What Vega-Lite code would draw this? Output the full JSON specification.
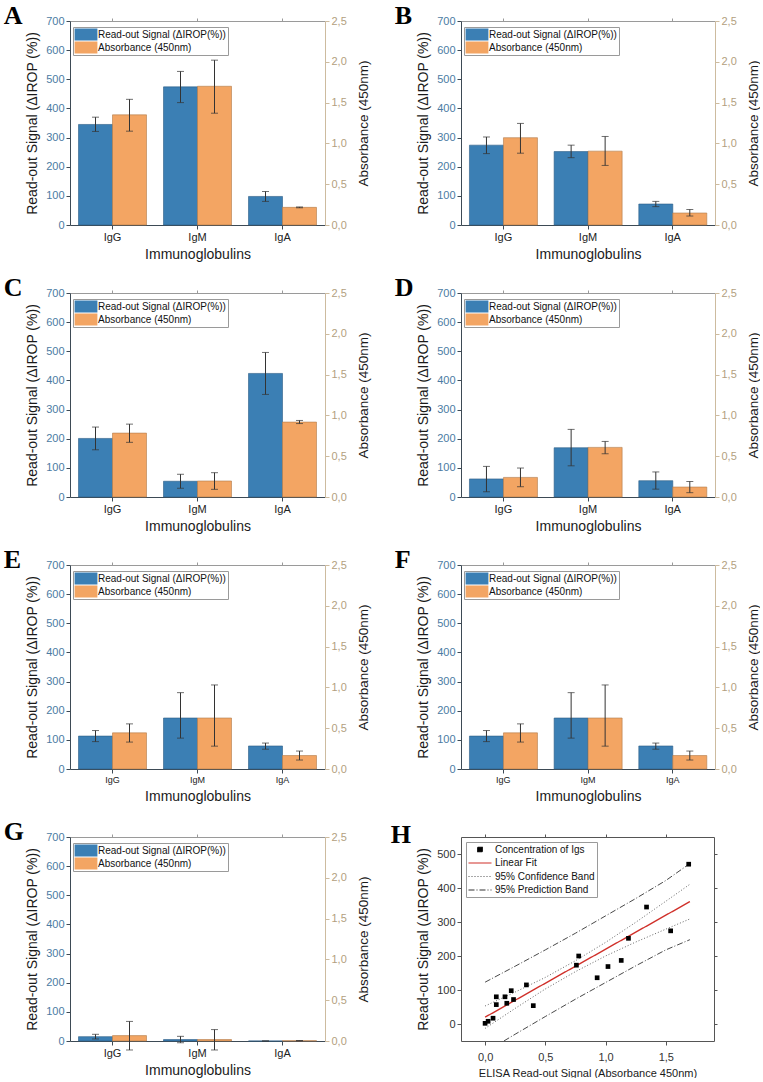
{
"$schema": "https://vega.github.io/schema/vega-lite/v6.json",
"padding": {"left": 3, "top": 3, "right": 0, "bottom": 0},
"background": "white",
"datasets": {
"bars": [
{"panel":"A","ig":"IgG","series":"Read-out Signal (ΔIROP(%))","value":345,"low":321,"high":370},
{"panel":"A","ig":"IgG","series":"Absorbance (450nm)","value":1.35,"low":1.15,"high":1.54},
{"panel":"A","ig":"IgM","series":"Read-out Signal (ΔIROP(%))","value":474,"low":420,"high":527},
{"panel":"A","ig":"IgM","series":"Absorbance (450nm)","value":1.70,"low":1.37,"high":2.02},
{"panel":"A","ig":"IgA","series":"Read-out Signal (ΔIROP(%))","value":98,"low":81,"high":115},
{"panel":"A","ig":"IgA","series":"Absorbance (450nm)","value":0.216,"low":0.211,"high":0.221},
{"panel":"B","ig":"IgG","series":"Read-out Signal (ΔIROP(%))","value":274,"low":245,"high":302},
{"panel":"B","ig":"IgG","series":"Absorbance (450nm)","value":1.07,"low":0.88,"high":1.245},
{"panel":"B","ig":"IgM","series":"Read-out Signal (ΔIROP(%))","value":252,"low":231,"high":274},
{"panel":"B","ig":"IgM","series":"Absorbance (450nm)","value":0.905,"low":0.73,"high":1.085},
{"panel":"B","ig":"IgA","series":"Read-out Signal (ΔIROP(%))","value":72,"low":63,"high":81},
{"panel":"B","ig":"IgA","series":"Absorbance (450nm)","value":0.147,"low":0.11,"high":0.19},
{"panel":"C","ig":"IgG","series":"Read-out Signal (ΔIROP(%))","value":201,"low":162,"high":240},
{"panel":"C","ig":"IgG","series":"Absorbance (450nm)","value":0.783,"low":0.67,"high":0.893},
{"panel":"C","ig":"IgM","series":"Read-out Signal (ΔIROP(%))","value":54,"low":30,"high":78},
{"panel":"C","ig":"IgM","series":"Absorbance (450nm)","value":0.196,"low":0.094,"high":0.298},
{"panel":"C","ig":"IgA","series":"Read-out Signal (ΔIROP(%))","value":424,"low":352,"high":496},
{"panel":"C","ig":"IgA","series":"Absorbance (450nm)","value":0.918,"low":0.9,"high":0.938},
{"panel":"D","ig":"IgG","series":"Read-out Signal (ΔIROP(%))","value":62,"low":18,"high":105},
{"panel":"D","ig":"IgG","series":"Absorbance (450nm)","value":0.24,"low":0.126,"high":0.355},
{"panel":"D","ig":"IgM","series":"Read-out Signal (ΔIROP(%))","value":169,"low":107,"high":232},
{"panel":"D","ig":"IgM","series":"Absorbance (450nm)","value":0.608,"low":0.53,"high":0.681},
{"panel":"D","ig":"IgA","series":"Read-out Signal (ΔIROP(%))","value":56,"low":27,"high":86},
{"panel":"D","ig":"IgA","series":"Absorbance (450nm)","value":0.122,"low":0.053,"high":0.19},
{"panel":"E","ig":"IgG","series":"Read-out Signal (ΔIROP(%))","value":113,"low":94,"high":132},
{"panel":"E","ig":"IgG","series":"Absorbance (450nm)","value":0.443,"low":0.33,"high":0.553},
{"panel":"E","ig":"IgM","series":"Read-out Signal (ΔIROP(%))","value":175,"low":106,"high":262},
{"panel":"E","ig":"IgM","series":"Absorbance (450nm)","value":0.625,"low":0.28,"high":1.03},
{"panel":"E","ig":"IgA","series":"Read-out Signal (ΔIROP(%))","value":79,"low":68,"high":89},
{"panel":"E","ig":"IgA","series":"Absorbance (450nm)","value":0.165,"low":0.11,"high":0.22},
{"panel":"F","ig":"IgG","series":"Read-out Signal (ΔIROP(%))","value":113,"low":94,"high":132},
{"panel":"F","ig":"IgG","series":"Absorbance (450nm)","value":0.443,"low":0.33,"high":0.553},
{"panel":"F","ig":"IgM","series":"Read-out Signal (ΔIROP(%))","value":175,"low":106,"high":262},
{"panel":"F","ig":"IgM","series":"Absorbance (450nm)","value":0.625,"low":0.28,"high":1.03},
{"panel":"F","ig":"IgA","series":"Read-out Signal (ΔIROP(%))","value":79,"low":68,"high":89},
{"panel":"F","ig":"IgA","series":"Absorbance (450nm)","value":0.165,"low":0.11,"high":0.22},
{"panel":"G","ig":"IgG","series":"Read-out Signal (ΔIROP(%))","value":15,"low":7,"high":23},
{"panel":"G","ig":"IgG","series":"Absorbance (450nm)","value":0.066,"low":-0.11,"high":0.24},
{"panel":"G","ig":"IgM","series":"Read-out Signal (ΔIROP(%))","value":5,"low":-6,"high":16},
{"panel":"G","ig":"IgM","series":"Absorbance (450nm)","value":0.018,"low":-0.11,"high":0.14},
{"panel":"G","ig":"IgA","series":"Read-out Signal (ΔIROP(%))","value":0,"low":0,"high":0},
{"panel":"G","ig":"IgA","series":"Absorbance (450nm)","value":0.004,"low":0.002,"high":0.006}
],
"pts": [
{"x":0.0,"y":2,"cat":"Concentration of Igs"},
{"x":0.025,"y":8,"cat":"Concentration of Igs"},
{"x":0.066,"y":17,"cat":"Concentration of Igs"},
{"x":0.093,"y":57,"cat":"Concentration of Igs"},
{"x":0.093,"y":80,"cat":"Concentration of Igs"},
{"x":0.165,"y":80,"cat":"Concentration of Igs"},
{"x":0.18,"y":61,"cat":"Concentration of Igs"},
{"x":0.217,"y":98,"cat":"Concentration of Igs"},
{"x":0.236,"y":72,"cat":"Concentration of Igs"},
{"x":0.343,"y":115,"cat":"Concentration of Igs"},
{"x":0.40,"y":54,"cat":"Concentration of Igs"},
{"x":0.758,"y":173,"cat":"Concentration of Igs"},
{"x":0.777,"y":200,"cat":"Concentration of Igs"},
{"x":0.93,"y":136,"cat":"Concentration of Igs"},
{"x":1.02,"y":169,"cat":"Concentration of Igs"},
{"x":1.13,"y":187,"cat":"Concentration of Igs"},
{"x":1.19,"y":252,"cat":"Concentration of Igs"},
{"x":1.34,"y":344,"cat":"Concentration of Igs"},
{"x":1.54,"y":274,"cat":"Concentration of Igs"},
{"x":1.69,"y":470,"cat":"Concentration of Igs"}
],
"lines": [
{"line":"fit","cat":"Linear Fit","x":0,"y":20},
{"line":"fit","cat":"Linear Fit","x":1.7,"y":360},
{"line":"cbU","cat":"95% Confidence Band","x":0,"y":53},
{"line":"cbU","cat":"95% Confidence Band","x":0.25,"y":94},
{"line":"cbU","cat":"95% Confidence Band","x":0.5,"y":137},
{"line":"cbU","cat":"95% Confidence Band","x":0.75,"y":186},
{"line":"cbU","cat":"95% Confidence Band","x":1.0,"y":240},
{"line":"cbU","cat":"95% Confidence Band","x":1.25,"y":299},
{"line":"cbU","cat":"95% Confidence Band","x":1.5,"y":361},
{"line":"cbU","cat":"95% Confidence Band","x":1.7,"y":411},
{"line":"cbL","cat":"95% Confidence Band","x":0,"y":-13},
{"line":"cbL","cat":"95% Confidence Band","x":0.25,"y":46},
{"line":"cbL","cat":"95% Confidence Band","x":0.5,"y":103},
{"line":"cbL","cat":"95% Confidence Band","x":0.75,"y":154},
{"line":"cbL","cat":"95% Confidence Band","x":1.0,"y":200},
{"line":"cbL","cat":"95% Confidence Band","x":1.25,"y":241},
{"line":"cbL","cat":"95% Confidence Band","x":1.5,"y":279},
{"line":"cbL","cat":"95% Confidence Band","x":1.7,"y":309},
{"line":"pbU","cat":"95% Prediction Band","x":0,"y":123},
{"line":"pbU","cat":"95% Prediction Band","x":0.25,"y":170},
{"line":"pbU","cat":"95% Prediction Band","x":0.5,"y":218},
{"line":"pbU","cat":"95% Prediction Band","x":0.75,"y":267},
{"line":"pbU","cat":"95% Prediction Band","x":1.0,"y":318},
{"line":"pbU","cat":"95% Prediction Band","x":1.25,"y":369},
{"line":"pbU","cat":"95% Prediction Band","x":1.5,"y":422},
{"line":"pbU","cat":"95% Prediction Band","x":1.7,"y":472},
{"line":"pbL","cat":"95% Prediction Band","x":0,"y":-83},
{"line":"pbL","cat":"95% Prediction Band","x":0.25,"y":-30},
{"line":"pbL","cat":"95% Prediction Band","x":0.5,"y":22},
{"line":"pbL","cat":"95% Prediction Band","x":0.75,"y":73},
{"line":"pbL","cat":"95% Prediction Band","x":1.0,"y":122},
{"line":"pbL","cat":"95% Prediction Band","x":1.25,"y":171},
{"line":"pbL","cat":"95% Prediction Band","x":1.5,"y":218},
{"line":"pbL","cat":"95% Prediction Band","x":1.7,"y":248}
]
},
"bounds": "flush",
"columns": 2,
"spacing": {"row": 68, "column": 136},
"resolve": {"scale": {"color": "independent", "strokeDash": "independent"}, "legend": {"color": "independent"}},
"concat": [
{"title": {"text": "A"}, "width": 255, "height": 204, "data": {"name": "bars"}, "transform": [{"filter": "datum.panel == 'A'"}],
 "resolve": {"scale": {"y": "independent"}, "axis": {"x": "independent"}},
 "layer": [
  {"transform": [{"filter": "datum.series == 'Read-out Signal (ΔIROP(%))'"}],
   "encoding": {"x": {"field": "ig", "type": "nominal", "sort": ["IgG","IgM","IgA"], "scale": {"paddingInner": 0.2, "paddingOuter": 0.1}, "axis": {"title": "Immunoglobulins", "labelAngle": 0, "domainColor": "#3d4a55", "tickColor": "#3d4a55", "labelColor": "#222", "titlePadding": 5}},
     "xOffset": {"field": "series", "type": "nominal", "scale": {"domain": ["Read-out Signal (ΔIROP(%))", "Absorbance (450nm)"]}}},
   "layer": [
    {"mark": {"type": "bar", "stroke": "#2c5d85", "strokeWidth": 0.6},
     "encoding": {"y": {"field": "value", "type": "quantitative", "scale": {"domain": [0,700], "nice": false}, "axis": {"title": "Read-out Signal (ΔIROP (%))", "values": [0,100,200,300,400,500,600,700], "labelColor": "#4b7ba3", "domainColor": "#3d4a55", "tickColor": "#3d4a55", "titlePadding": 6}},
      "color": {"field": "series", "type": "nominal", "scale": {"domain": ["Read-out Signal (ΔIROP(%))", "Absorbance (450nm)"], "range": ["#3b7fb4", "#f3a563"]}, "legend": {"title": null, "orient": "none", "legendX": 3, "legendY": 6}}}},
    {"mark": {"type": "rule", "color": "#333", "strokeWidth": 1}, "encoding": {"y": {"field": "low", "type": "quantitative", "axis": {"title": "Read-out Signal (ΔIROP (%))", "values": [0,100,200,300,400,500,600,700], "labelColor": "#4b7ba3", "domainColor": "#3d4a55", "tickColor": "#3d4a55", "titlePadding": 6}}, "y2": {"field": "high"}}},
    {"mark": {"type": "tick", "color": "#333", "thickness": 1, "size": 7}, "encoding": {"y": {"field": "low", "type": "quantitative", "axis": {"title": "Read-out Signal (ΔIROP (%))", "values": [0,100,200,300,400,500,600,700], "labelColor": "#4b7ba3", "domainColor": "#3d4a55", "tickColor": "#3d4a55", "titlePadding": 6}}}},
    {"mark": {"type": "tick", "color": "#333", "thickness": 1, "size": 7}, "encoding": {"y": {"field": "high", "type": "quantitative", "axis": {"title": "Read-out Signal (ΔIROP (%))", "values": [0,100,200,300,400,500,600,700], "labelColor": "#4b7ba3", "domainColor": "#3d4a55", "tickColor": "#3d4a55", "titlePadding": 6}}}}
   ]},
  {"transform": [{"filter": "datum.series == 'Absorbance (450nm)'"}],
   "encoding": {"x": {"field": "ig", "type": "nominal", "sort": ["IgG","IgM","IgA"], "scale": {"paddingInner": 0.2, "paddingOuter": 0.1}, "axis": {"orient": "top", "title": null, "labels": false, "domainColor": "#9a9a9a", "tickColor": "#9a9a9a", "tickSize": 3}},
     "xOffset": {"field": "series", "type": "nominal", "scale": {"domain": ["Read-out Signal (ΔIROP(%))", "Absorbance (450nm)"]}}},
   "layer": [
    {"mark": {"type": "bar", "stroke": "#b07a4a", "strokeWidth": 0.6},
     "encoding": {"y": {"field": "value", "type": "quantitative", "scale": {"domain": [0,2.5], "nice": false}, "axis": {"orient": "right", "title": "Absorbance (450nm)", "values": [0,0.5,1,1.5,2,2.5], "format": ".1f", "labelExpr": "replace(datum.label, '.', ',')", "labelColor": "#b39f80", "domainColor": "#cdbb9f", "tickColor": "#cdbb9f", "titlePadding": 10, "titleFontSize": 13.5}},
      "color": {"field": "series", "type": "nominal", "scale": {"domain": ["Read-out Signal (ΔIROP(%))", "Absorbance (450nm)"], "range": ["#3b7fb4", "#f3a563"]}, "legend": {"title": null, "orient": "none", "legendX": 3, "legendY": 6}}}},
    {"mark": {"type": "rule", "color": "#333", "strokeWidth": 1}, "encoding": {"y": {"field": "low", "type": "quantitative", "axis": {"orient": "right", "title": "Absorbance (450nm)", "values": [0,0.5,1,1.5,2,2.5], "format": ".1f", "labelExpr": "replace(datum.label, '.', ',')", "labelColor": "#b39f80", "domainColor": "#cdbb9f", "tickColor": "#cdbb9f", "titlePadding": 10, "titleFontSize": 13.5}}, "y2": {"field": "high"}}},
    {"mark": {"type": "tick", "color": "#333", "thickness": 1, "size": 7}, "encoding": {"y": {"field": "low", "type": "quantitative", "axis": {"orient": "right", "title": "Absorbance (450nm)", "values": [0,0.5,1,1.5,2,2.5], "format": ".1f", "labelExpr": "replace(datum.label, '.', ',')", "labelColor": "#b39f80", "domainColor": "#cdbb9f", "tickColor": "#cdbb9f", "titlePadding": 10, "titleFontSize": 13.5}}}},
    {"mark": {"type": "tick", "color": "#333", "thickness": 1, "size": 7}, "encoding": {"y": {"field": "high", "type": "quantitative", "axis": {"orient": "right", "title": "Absorbance (450nm)", "values": [0,0.5,1,1.5,2,2.5], "format": ".1f", "labelExpr": "replace(datum.label, '.', ',')", "labelColor": "#b39f80", "domainColor": "#cdbb9f", "tickColor": "#cdbb9f", "titlePadding": 10, "titleFontSize": 13.5}}}}
   ]}
 ]},
{"title": {"text": "B"}, "width": 254, "height": 204, "data": {"name": "bars"}, "transform": [{"filter": "datum.panel == 'B'"}],
 "resolve": {"scale": {"y": "independent"}, "axis": {"x": "independent"}},
 "layer": [
  {"transform": [{"filter": "datum.series == 'Read-out Signal (ΔIROP(%))'"}],
   "encoding": {"x": {"field": "ig", "type": "nominal", "sort": ["IgG","IgM","IgA"], "scale": {"paddingInner": 0.2, "paddingOuter": 0.1}, "axis": {"title": "Immunoglobulins", "labelAngle": 0, "domainColor": "#3d4a55", "tickColor": "#3d4a55", "labelColor": "#222", "titlePadding": 5}},
     "xOffset": {"field": "series", "type": "nominal", "scale": {"domain": ["Read-out Signal (ΔIROP(%))", "Absorbance (450nm)"]}}},
   "layer": [
    {"mark": {"type": "bar", "stroke": "#2c5d85", "strokeWidth": 0.6},
     "encoding": {"y": {"field": "value", "type": "quantitative", "scale": {"domain": [0,700], "nice": false}, "axis": {"title": "Read-out Signal (ΔIROP (%))", "values": [0,100,200,300,400,500,600,700], "labelColor": "#4b7ba3", "domainColor": "#3d4a55", "tickColor": "#3d4a55", "titlePadding": 6}},
      "color": {"field": "series", "type": "nominal", "scale": {"domain": ["Read-out Signal (ΔIROP(%))", "Absorbance (450nm)"], "range": ["#3b7fb4", "#f3a563"]}, "legend": {"title": null, "orient": "none", "legendX": 3, "legendY": 6}}}},
    {"mark": {"type": "rule", "color": "#333", "strokeWidth": 1}, "encoding": {"y": {"field": "low", "type": "quantitative", "axis": {"title": "Read-out Signal (ΔIROP (%))", "values": [0,100,200,300,400,500,600,700], "labelColor": "#4b7ba3", "domainColor": "#3d4a55", "tickColor": "#3d4a55", "titlePadding": 6}}, "y2": {"field": "high"}}},
    {"mark": {"type": "tick", "color": "#333", "thickness": 1, "size": 7}, "encoding": {"y": {"field": "low", "type": "quantitative", "axis": {"title": "Read-out Signal (ΔIROP (%))", "values": [0,100,200,300,400,500,600,700], "labelColor": "#4b7ba3", "domainColor": "#3d4a55", "tickColor": "#3d4a55", "titlePadding": 6}}}},
    {"mark": {"type": "tick", "color": "#333", "thickness": 1, "size": 7}, "encoding": {"y": {"field": "high", "type": "quantitative", "axis": {"title": "Read-out Signal (ΔIROP (%))", "values": [0,100,200,300,400,500,600,700], "labelColor": "#4b7ba3", "domainColor": "#3d4a55", "tickColor": "#3d4a55", "titlePadding": 6}}}}
   ]},
  {"transform": [{"filter": "datum.series == 'Absorbance (450nm)'"}],
   "encoding": {"x": {"field": "ig", "type": "nominal", "sort": ["IgG","IgM","IgA"], "scale": {"paddingInner": 0.2, "paddingOuter": 0.1}, "axis": {"orient": "top", "title": null, "labels": false, "domainColor": "#9a9a9a", "tickColor": "#9a9a9a", "tickSize": 3}},
     "xOffset": {"field": "series", "type": "nominal", "scale": {"domain": ["Read-out Signal (ΔIROP(%))", "Absorbance (450nm)"]}}},
   "layer": [
    {"mark": {"type": "bar", "stroke": "#b07a4a", "strokeWidth": 0.6},
     "encoding": {"y": {"field": "value", "type": "quantitative", "scale": {"domain": [0,2.5], "nice": false}, "axis": {"orient": "right", "title": "Absorbance (450nm)", "values": [0,0.5,1,1.5,2,2.5], "format": ".1f", "labelExpr": "replace(datum.label, '.', ',')", "labelColor": "#b39f80", "domainColor": "#cdbb9f", "tickColor": "#cdbb9f", "titlePadding": 10, "titleFontSize": 13.5}},
      "color": {"field": "series", "type": "nominal", "scale": {"domain": ["Read-out Signal (ΔIROP(%))", "Absorbance (450nm)"], "range": ["#3b7fb4", "#f3a563"]}, "legend": {"title": null, "orient": "none", "legendX": 3, "legendY": 6}}}},
    {"mark": {"type": "rule", "color": "#333", "strokeWidth": 1}, "encoding": {"y": {"field": "low", "type": "quantitative", "axis": {"orient": "right", "title": "Absorbance (450nm)", "values": [0,0.5,1,1.5,2,2.5], "format": ".1f", "labelExpr": "replace(datum.label, '.', ',')", "labelColor": "#b39f80", "domainColor": "#cdbb9f", "tickColor": "#cdbb9f", "titlePadding": 10, "titleFontSize": 13.5}}, "y2": {"field": "high"}}},
    {"mark": {"type": "tick", "color": "#333", "thickness": 1, "size": 7}, "encoding": {"y": {"field": "low", "type": "quantitative", "axis": {"orient": "right", "title": "Absorbance (450nm)", "values": [0,0.5,1,1.5,2,2.5], "format": ".1f", "labelExpr": "replace(datum.label, '.', ',')", "labelColor": "#b39f80", "domainColor": "#cdbb9f", "tickColor": "#cdbb9f", "titlePadding": 10, "titleFontSize": 13.5}}}},
    {"mark": {"type": "tick", "color": "#333", "thickness": 1, "size": 7}, "encoding": {"y": {"field": "high", "type": "quantitative", "axis": {"orient": "right", "title": "Absorbance (450nm)", "values": [0,0.5,1,1.5,2,2.5], "format": ".1f", "labelExpr": "replace(datum.label, '.', ',')", "labelColor": "#b39f80", "domainColor": "#cdbb9f", "tickColor": "#cdbb9f", "titlePadding": 10, "titleFontSize": 13.5}}}}
   ]}
 ]},
{"title": {"text": "C"}, "width": 255, "height": 204, "data": {"name": "bars"}, "transform": [{"filter": "datum.panel == 'C'"}],
 "resolve": {"scale": {"y": "independent"}, "axis": {"x": "independent"}},
 "layer": [
  {"transform": [{"filter": "datum.series == 'Read-out Signal (ΔIROP(%))'"}],
   "encoding": {"x": {"field": "ig", "type": "nominal", "sort": ["IgG","IgM","IgA"], "scale": {"paddingInner": 0.2, "paddingOuter": 0.1}, "axis": {"title": "Immunoglobulins", "labelAngle": 0, "domainColor": "#3d4a55", "tickColor": "#3d4a55", "labelColor": "#222", "titlePadding": 5}},
     "xOffset": {"field": "series", "type": "nominal", "scale": {"domain": ["Read-out Signal (ΔIROP(%))", "Absorbance (450nm)"]}}},
   "layer": [
    {"mark": {"type": "bar", "stroke": "#2c5d85", "strokeWidth": 0.6},
     "encoding": {"y": {"field": "value", "type": "quantitative", "scale": {"domain": [0,700], "nice": false}, "axis": {"title": "Read-out Signal (ΔIROP (%))", "values": [0,100,200,300,400,500,600,700], "labelColor": "#4b7ba3", "domainColor": "#3d4a55", "tickColor": "#3d4a55", "titlePadding": 6}},
      "color": {"field": "series", "type": "nominal", "scale": {"domain": ["Read-out Signal (ΔIROP(%))", "Absorbance (450nm)"], "range": ["#3b7fb4", "#f3a563"]}, "legend": {"title": null, "orient": "none", "legendX": 3, "legendY": 6}}}},
    {"mark": {"type": "rule", "color": "#333", "strokeWidth": 1}, "encoding": {"y": {"field": "low", "type": "quantitative", "axis": {"title": "Read-out Signal (ΔIROP (%))", "values": [0,100,200,300,400,500,600,700], "labelColor": "#4b7ba3", "domainColor": "#3d4a55", "tickColor": "#3d4a55", "titlePadding": 6}}, "y2": {"field": "high"}}},
    {"mark": {"type": "tick", "color": "#333", "thickness": 1, "size": 7}, "encoding": {"y": {"field": "low", "type": "quantitative", "axis": {"title": "Read-out Signal (ΔIROP (%))", "values": [0,100,200,300,400,500,600,700], "labelColor": "#4b7ba3", "domainColor": "#3d4a55", "tickColor": "#3d4a55", "titlePadding": 6}}}},
    {"mark": {"type": "tick", "color": "#333", "thickness": 1, "size": 7}, "encoding": {"y": {"field": "high", "type": "quantitative", "axis": {"title": "Read-out Signal (ΔIROP (%))", "values": [0,100,200,300,400,500,600,700], "labelColor": "#4b7ba3", "domainColor": "#3d4a55", "tickColor": "#3d4a55", "titlePadding": 6}}}}
   ]},
  {"transform": [{"filter": "datum.series == 'Absorbance (450nm)'"}],
   "encoding": {"x": {"field": "ig", "type": "nominal", "sort": ["IgG","IgM","IgA"], "scale": {"paddingInner": 0.2, "paddingOuter": 0.1}, "axis": {"orient": "top", "title": null, "labels": false, "domainColor": "#9a9a9a", "tickColor": "#9a9a9a", "tickSize": 3}},
     "xOffset": {"field": "series", "type": "nominal", "scale": {"domain": ["Read-out Signal (ΔIROP(%))", "Absorbance (450nm)"]}}},
   "layer": [
    {"mark": {"type": "bar", "stroke": "#b07a4a", "strokeWidth": 0.6},
     "encoding": {"y": {"field": "value", "type": "quantitative", "scale": {"domain": [0,2.5], "nice": false}, "axis": {"orient": "right", "title": "Absorbance (450nm)", "values": [0,0.5,1,1.5,2,2.5], "format": ".1f", "labelExpr": "replace(datum.label, '.', ',')", "labelColor": "#b39f80", "domainColor": "#cdbb9f", "tickColor": "#cdbb9f", "titlePadding": 10, "titleFontSize": 13.5}},
      "color": {"field": "series", "type": "nominal", "scale": {"domain": ["Read-out Signal (ΔIROP(%))", "Absorbance (450nm)"], "range": ["#3b7fb4", "#f3a563"]}, "legend": {"title": null, "orient": "none", "legendX": 3, "legendY": 6}}}},
    {"mark": {"type": "rule", "color": "#333", "strokeWidth": 1}, "encoding": {"y": {"field": "low", "type": "quantitative", "axis": {"orient": "right", "title": "Absorbance (450nm)", "values": [0,0.5,1,1.5,2,2.5], "format": ".1f", "labelExpr": "replace(datum.label, '.', ',')", "labelColor": "#b39f80", "domainColor": "#cdbb9f", "tickColor": "#cdbb9f", "titlePadding": 10, "titleFontSize": 13.5}}, "y2": {"field": "high"}}},
    {"mark": {"type": "tick", "color": "#333", "thickness": 1, "size": 7}, "encoding": {"y": {"field": "low", "type": "quantitative", "axis": {"orient": "right", "title": "Absorbance (450nm)", "values": [0,0.5,1,1.5,2,2.5], "format": ".1f", "labelExpr": "replace(datum.label, '.', ',')", "labelColor": "#b39f80", "domainColor": "#cdbb9f", "tickColor": "#cdbb9f", "titlePadding": 10, "titleFontSize": 13.5}}}},
    {"mark": {"type": "tick", "color": "#333", "thickness": 1, "size": 7}, "encoding": {"y": {"field": "high", "type": "quantitative", "axis": {"orient": "right", "title": "Absorbance (450nm)", "values": [0,0.5,1,1.5,2,2.5], "format": ".1f", "labelExpr": "replace(datum.label, '.', ',')", "labelColor": "#b39f80", "domainColor": "#cdbb9f", "tickColor": "#cdbb9f", "titlePadding": 10, "titleFontSize": 13.5}}}}
   ]}
 ]},
{"title": {"text": "D"}, "width": 254, "height": 204, "data": {"name": "bars"}, "transform": [{"filter": "datum.panel == 'D'"}],
 "resolve": {"scale": {"y": "independent"}, "axis": {"x": "independent"}},
 "layer": [
  {"transform": [{"filter": "datum.series == 'Read-out Signal (ΔIROP(%))'"}],
   "encoding": {"x": {"field": "ig", "type": "nominal", "sort": ["IgG","IgM","IgA"], "scale": {"paddingInner": 0.2, "paddingOuter": 0.1}, "axis": {"title": "Immunoglobulins", "labelAngle": 0, "domainColor": "#3d4a55", "tickColor": "#3d4a55", "labelColor": "#222", "titlePadding": 5}},
     "xOffset": {"field": "series", "type": "nominal", "scale": {"domain": ["Read-out Signal (ΔIROP(%))", "Absorbance (450nm)"]}}},
   "layer": [
    {"mark": {"type": "bar", "stroke": "#2c5d85", "strokeWidth": 0.6},
     "encoding": {"y": {"field": "value", "type": "quantitative", "scale": {"domain": [0,700], "nice": false}, "axis": {"title": "Read-out Signal (ΔIROP (%))", "values": [0,100,200,300,400,500,600,700], "labelColor": "#4b7ba3", "domainColor": "#3d4a55", "tickColor": "#3d4a55", "titlePadding": 6}},
      "color": {"field": "series", "type": "nominal", "scale": {"domain": ["Read-out Signal (ΔIROP(%))", "Absorbance (450nm)"], "range": ["#3b7fb4", "#f3a563"]}, "legend": {"title": null, "orient": "none", "legendX": 3, "legendY": 6}}}},
    {"mark": {"type": "rule", "color": "#333", "strokeWidth": 1}, "encoding": {"y": {"field": "low", "type": "quantitative", "axis": {"title": "Read-out Signal (ΔIROP (%))", "values": [0,100,200,300,400,500,600,700], "labelColor": "#4b7ba3", "domainColor": "#3d4a55", "tickColor": "#3d4a55", "titlePadding": 6}}, "y2": {"field": "high"}}},
    {"mark": {"type": "tick", "color": "#333", "thickness": 1, "size": 7}, "encoding": {"y": {"field": "low", "type": "quantitative", "axis": {"title": "Read-out Signal (ΔIROP (%))", "values": [0,100,200,300,400,500,600,700], "labelColor": "#4b7ba3", "domainColor": "#3d4a55", "tickColor": "#3d4a55", "titlePadding": 6}}}},
    {"mark": {"type": "tick", "color": "#333", "thickness": 1, "size": 7}, "encoding": {"y": {"field": "high", "type": "quantitative", "axis": {"title": "Read-out Signal (ΔIROP (%))", "values": [0,100,200,300,400,500,600,700], "labelColor": "#4b7ba3", "domainColor": "#3d4a55", "tickColor": "#3d4a55", "titlePadding": 6}}}}
   ]},
  {"transform": [{"filter": "datum.series == 'Absorbance (450nm)'"}],
   "encoding": {"x": {"field": "ig", "type": "nominal", "sort": ["IgG","IgM","IgA"], "scale": {"paddingInner": 0.2, "paddingOuter": 0.1}, "axis": {"orient": "top", "title": null, "labels": false, "domainColor": "#9a9a9a", "tickColor": "#9a9a9a", "tickSize": 3}},
     "xOffset": {"field": "series", "type": "nominal", "scale": {"domain": ["Read-out Signal (ΔIROP(%))", "Absorbance (450nm)"]}}},
   "layer": [
    {"mark": {"type": "bar", "stroke": "#b07a4a", "strokeWidth": 0.6},
     "encoding": {"y": {"field": "value", "type": "quantitative", "scale": {"domain": [0,2.5], "nice": false}, "axis": {"orient": "right", "title": "Absorbance (450nm)", "values": [0,0.5,1,1.5,2,2.5], "format": ".1f", "labelExpr": "replace(datum.label, '.', ',')", "labelColor": "#b39f80", "domainColor": "#cdbb9f", "tickColor": "#cdbb9f", "titlePadding": 10, "titleFontSize": 13.5}},
      "color": {"field": "series", "type": "nominal", "scale": {"domain": ["Read-out Signal (ΔIROP(%))", "Absorbance (450nm)"], "range": ["#3b7fb4", "#f3a563"]}, "legend": {"title": null, "orient": "none", "legendX": 3, "legendY": 6}}}},
    {"mark": {"type": "rule", "color": "#333", "strokeWidth": 1}, "encoding": {"y": {"field": "low", "type": "quantitative", "axis": {"orient": "right", "title": "Absorbance (450nm)", "values": [0,0.5,1,1.5,2,2.5], "format": ".1f", "labelExpr": "replace(datum.label, '.', ',')", "labelColor": "#b39f80", "domainColor": "#cdbb9f", "tickColor": "#cdbb9f", "titlePadding": 10, "titleFontSize": 13.5}}, "y2": {"field": "high"}}},
    {"mark": {"type": "tick", "color": "#333", "thickness": 1, "size": 7}, "encoding": {"y": {"field": "low", "type": "quantitative", "axis": {"orient": "right", "title": "Absorbance (450nm)", "values": [0,0.5,1,1.5,2,2.5], "format": ".1f", "labelExpr": "replace(datum.label, '.', ',')", "labelColor": "#b39f80", "domainColor": "#cdbb9f", "tickColor": "#cdbb9f", "titlePadding": 10, "titleFontSize": 13.5}}}},
    {"mark": {"type": "tick", "color": "#333", "thickness": 1, "size": 7}, "encoding": {"y": {"field": "high", "type": "quantitative", "axis": {"orient": "right", "title": "Absorbance (450nm)", "values": [0,0.5,1,1.5,2,2.5], "format": ".1f", "labelExpr": "replace(datum.label, '.', ',')", "labelColor": "#b39f80", "domainColor": "#cdbb9f", "tickColor": "#cdbb9f", "titlePadding": 10, "titleFontSize": 13.5}}}}
   ]}
 ]},
{"title": {"text": "E"}, "width": 255, "height": 204, "data": {"name": "bars"}, "transform": [{"filter": "datum.panel == 'E'"}],
 "resolve": {"scale": {"y": "independent"}, "axis": {"x": "independent"}},
 "layer": [
  {"transform": [{"filter": "datum.series == 'Read-out Signal (ΔIROP(%))'"}],
   "encoding": {"x": {"field": "ig", "type": "nominal", "sort": ["IgG","IgM","IgA"], "scale": {"paddingInner": 0.2, "paddingOuter": 0.1}, "axis": {"title": "Immunoglobulins", "labelAngle": 0, "labelFontSize": 9, "domainColor": "#3d4a55", "tickColor": "#3d4a55", "labelColor": "#222", "titlePadding": 5}},
     "xOffset": {"field": "series", "type": "nominal", "scale": {"domain": ["Read-out Signal (ΔIROP(%))", "Absorbance (450nm)"]}}},
   "layer": [
    {"mark": {"type": "bar", "stroke": "#2c5d85", "strokeWidth": 0.6},
     "encoding": {"y": {"field": "value", "type": "quantitative", "scale": {"domain": [0,700], "nice": false}, "axis": {"title": "Read-out Signal (ΔIROP (%))", "values": [0,100,200,300,400,500,600,700], "labelColor": "#4b7ba3", "domainColor": "#3d4a55", "tickColor": "#3d4a55", "titlePadding": 6}},
      "color": {"field": "series", "type": "nominal", "scale": {"domain": ["Read-out Signal (ΔIROP(%))", "Absorbance (450nm)"], "range": ["#3b7fb4", "#f3a563"]}, "legend": {"title": null, "orient": "none", "legendX": 3, "legendY": 6}}}},
    {"mark": {"type": "rule", "color": "#333", "strokeWidth": 1}, "encoding": {"y": {"field": "low", "type": "quantitative", "axis": {"title": "Read-out Signal (ΔIROP (%))", "values": [0,100,200,300,400,500,600,700], "labelColor": "#4b7ba3", "domainColor": "#3d4a55", "tickColor": "#3d4a55", "titlePadding": 6}}, "y2": {"field": "high"}}},
    {"mark": {"type": "tick", "color": "#333", "thickness": 1, "size": 7}, "encoding": {"y": {"field": "low", "type": "quantitative", "axis": {"title": "Read-out Signal (ΔIROP (%))", "values": [0,100,200,300,400,500,600,700], "labelColor": "#4b7ba3", "domainColor": "#3d4a55", "tickColor": "#3d4a55", "titlePadding": 6}}}},
    {"mark": {"type": "tick", "color": "#333", "thickness": 1, "size": 7}, "encoding": {"y": {"field": "high", "type": "quantitative", "axis": {"title": "Read-out Signal (ΔIROP (%))", "values": [0,100,200,300,400,500,600,700], "labelColor": "#4b7ba3", "domainColor": "#3d4a55", "tickColor": "#3d4a55", "titlePadding": 6}}}}
   ]},
  {"transform": [{"filter": "datum.series == 'Absorbance (450nm)'"}],
   "encoding": {"x": {"field": "ig", "type": "nominal", "sort": ["IgG","IgM","IgA"], "scale": {"paddingInner": 0.2, "paddingOuter": 0.1}, "axis": {"orient": "top", "title": null, "labels": false, "domainColor": "#9a9a9a", "tickColor": "#9a9a9a", "tickSize": 3}},
     "xOffset": {"field": "series", "type": "nominal", "scale": {"domain": ["Read-out Signal (ΔIROP(%))", "Absorbance (450nm)"]}}},
   "layer": [
    {"mark": {"type": "bar", "stroke": "#b07a4a", "strokeWidth": 0.6},
     "encoding": {"y": {"field": "value", "type": "quantitative", "scale": {"domain": [0,2.5], "nice": false}, "axis": {"orient": "right", "title": "Absorbance (450nm)", "values": [0,0.5,1,1.5,2,2.5], "format": ".1f", "labelExpr": "replace(datum.label, '.', ',')", "labelColor": "#b39f80", "domainColor": "#cdbb9f", "tickColor": "#cdbb9f", "titlePadding": 10, "titleFontSize": 13.5}},
      "color": {"field": "series", "type": "nominal", "scale": {"domain": ["Read-out Signal (ΔIROP(%))", "Absorbance (450nm)"], "range": ["#3b7fb4", "#f3a563"]}, "legend": {"title": null, "orient": "none", "legendX": 3, "legendY": 6}}}},
    {"mark": {"type": "rule", "color": "#333", "strokeWidth": 1}, "encoding": {"y": {"field": "low", "type": "quantitative", "axis": {"orient": "right", "title": "Absorbance (450nm)", "values": [0,0.5,1,1.5,2,2.5], "format": ".1f", "labelExpr": "replace(datum.label, '.', ',')", "labelColor": "#b39f80", "domainColor": "#cdbb9f", "tickColor": "#cdbb9f", "titlePadding": 10, "titleFontSize": 13.5}}, "y2": {"field": "high"}}},
    {"mark": {"type": "tick", "color": "#333", "thickness": 1, "size": 7}, "encoding": {"y": {"field": "low", "type": "quantitative", "axis": {"orient": "right", "title": "Absorbance (450nm)", "values": [0,0.5,1,1.5,2,2.5], "format": ".1f", "labelExpr": "replace(datum.label, '.', ',')", "labelColor": "#b39f80", "domainColor": "#cdbb9f", "tickColor": "#cdbb9f", "titlePadding": 10, "titleFontSize": 13.5}}}},
    {"mark": {"type": "tick", "color": "#333", "thickness": 1, "size": 7}, "encoding": {"y": {"field": "high", "type": "quantitative", "axis": {"orient": "right", "title": "Absorbance (450nm)", "values": [0,0.5,1,1.5,2,2.5], "format": ".1f", "labelExpr": "replace(datum.label, '.', ',')", "labelColor": "#b39f80", "domainColor": "#cdbb9f", "tickColor": "#cdbb9f", "titlePadding": 10, "titleFontSize": 13.5}}}}
   ]}
 ]},
{"title": {"text": "F"}, "width": 254, "height": 204, "data": {"name": "bars"}, "transform": [{"filter": "datum.panel == 'F'"}],
 "resolve": {"scale": {"y": "independent"}, "axis": {"x": "independent"}},
 "layer": [
  {"transform": [{"filter": "datum.series == 'Read-out Signal (ΔIROP(%))'"}],
   "encoding": {"x": {"field": "ig", "type": "nominal", "sort": ["IgG","IgM","IgA"], "scale": {"paddingInner": 0.2, "paddingOuter": 0.1}, "axis": {"title": "Immunoglobulins", "labelAngle": 0, "labelFontSize": 9, "domainColor": "#3d4a55", "tickColor": "#3d4a55", "labelColor": "#222", "titlePadding": 5}},
     "xOffset": {"field": "series", "type": "nominal", "scale": {"domain": ["Read-out Signal (ΔIROP(%))", "Absorbance (450nm)"]}}},
   "layer": [
    {"mark": {"type": "bar", "stroke": "#2c5d85", "strokeWidth": 0.6},
     "encoding": {"y": {"field": "value", "type": "quantitative", "scale": {"domain": [0,700], "nice": false}, "axis": {"title": "Read-out Signal (ΔIROP (%))", "values": [0,100,200,300,400,500,600,700], "labelColor": "#4b7ba3", "domainColor": "#3d4a55", "tickColor": "#3d4a55", "titlePadding": 6}},
      "color": {"field": "series", "type": "nominal", "scale": {"domain": ["Read-out Signal (ΔIROP(%))", "Absorbance (450nm)"], "range": ["#3b7fb4", "#f3a563"]}, "legend": {"title": null, "orient": "none", "legendX": 3, "legendY": 6}}}},
    {"mark": {"type": "rule", "color": "#333", "strokeWidth": 1}, "encoding": {"y": {"field": "low", "type": "quantitative", "axis": {"title": "Read-out Signal (ΔIROP (%))", "values": [0,100,200,300,400,500,600,700], "labelColor": "#4b7ba3", "domainColor": "#3d4a55", "tickColor": "#3d4a55", "titlePadding": 6}}, "y2": {"field": "high"}}},
    {"mark": {"type": "tick", "color": "#333", "thickness": 1, "size": 7}, "encoding": {"y": {"field": "low", "type": "quantitative", "axis": {"title": "Read-out Signal (ΔIROP (%))", "values": [0,100,200,300,400,500,600,700], "labelColor": "#4b7ba3", "domainColor": "#3d4a55", "tickColor": "#3d4a55", "titlePadding": 6}}}},
    {"mark": {"type": "tick", "color": "#333", "thickness": 1, "size": 7}, "encoding": {"y": {"field": "high", "type": "quantitative", "axis": {"title": "Read-out Signal (ΔIROP (%))", "values": [0,100,200,300,400,500,600,700], "labelColor": "#4b7ba3", "domainColor": "#3d4a55", "tickColor": "#3d4a55", "titlePadding": 6}}}}
   ]},
  {"transform": [{"filter": "datum.series == 'Absorbance (450nm)'"}],
   "encoding": {"x": {"field": "ig", "type": "nominal", "sort": ["IgG","IgM","IgA"], "scale": {"paddingInner": 0.2, "paddingOuter": 0.1}, "axis": {"orient": "top", "title": null, "labels": false, "domainColor": "#9a9a9a", "tickColor": "#9a9a9a", "tickSize": 3}},
     "xOffset": {"field": "series", "type": "nominal", "scale": {"domain": ["Read-out Signal (ΔIROP(%))", "Absorbance (450nm)"]}}},
   "layer": [
    {"mark": {"type": "bar", "stroke": "#b07a4a", "strokeWidth": 0.6},
     "encoding": {"y": {"field": "value", "type": "quantitative", "scale": {"domain": [0,2.5], "nice": false}, "axis": {"orient": "right", "title": "Absorbance (450nm)", "values": [0,0.5,1,1.5,2,2.5], "format": ".1f", "labelExpr": "replace(datum.label, '.', ',')", "labelColor": "#b39f80", "domainColor": "#cdbb9f", "tickColor": "#cdbb9f", "titlePadding": 10, "titleFontSize": 13.5}},
      "color": {"field": "series", "type": "nominal", "scale": {"domain": ["Read-out Signal (ΔIROP(%))", "Absorbance (450nm)"], "range": ["#3b7fb4", "#f3a563"]}, "legend": {"title": null, "orient": "none", "legendX": 3, "legendY": 6}}}},
    {"mark": {"type": "rule", "color": "#333", "strokeWidth": 1}, "encoding": {"y": {"field": "low", "type": "quantitative", "axis": {"orient": "right", "title": "Absorbance (450nm)", "values": [0,0.5,1,1.5,2,2.5], "format": ".1f", "labelExpr": "replace(datum.label, '.', ',')", "labelColor": "#b39f80", "domainColor": "#cdbb9f", "tickColor": "#cdbb9f", "titlePadding": 10, "titleFontSize": 13.5}}, "y2": {"field": "high"}}},
    {"mark": {"type": "tick", "color": "#333", "thickness": 1, "size": 7}, "encoding": {"y": {"field": "low", "type": "quantitative", "axis": {"orient": "right", "title": "Absorbance (450nm)", "values": [0,0.5,1,1.5,2,2.5], "format": ".1f", "labelExpr": "replace(datum.label, '.', ',')", "labelColor": "#b39f80", "domainColor": "#cdbb9f", "tickColor": "#cdbb9f", "titlePadding": 10, "titleFontSize": 13.5}}}},
    {"mark": {"type": "tick", "color": "#333", "thickness": 1, "size": 7}, "encoding": {"y": {"field": "high", "type": "quantitative", "axis": {"orient": "right", "title": "Absorbance (450nm)", "values": [0,0.5,1,1.5,2,2.5], "format": ".1f", "labelExpr": "replace(datum.label, '.', ',')", "labelColor": "#b39f80", "domainColor": "#cdbb9f", "tickColor": "#cdbb9f", "titlePadding": 10, "titleFontSize": 13.5}}}}
   ]}
 ]},
{"title": {"text": "G"}, "width": 255, "height": 204, "data": {"name": "bars"}, "transform": [{"filter": "datum.panel == 'G'"}],
 "resolve": {"scale": {"y": "independent"}, "axis": {"x": "independent"}},
 "layer": [
  {"transform": [{"filter": "datum.series == 'Read-out Signal (ΔIROP(%))'"}],
   "encoding": {"x": {"field": "ig", "type": "nominal", "sort": ["IgG","IgM","IgA"], "scale": {"paddingInner": 0.2, "paddingOuter": 0.1}, "axis": {"title": "Immunoglobulins", "labelAngle": 0, "domainColor": "#3d4a55", "tickColor": "#3d4a55", "labelColor": "#222", "titlePadding": 5}},
     "xOffset": {"field": "series", "type": "nominal", "scale": {"domain": ["Read-out Signal (ΔIROP(%))", "Absorbance (450nm)"]}}},
   "layer": [
    {"mark": {"type": "bar", "stroke": "#2c5d85", "strokeWidth": 0.6},
     "encoding": {"y": {"field": "value", "type": "quantitative", "scale": {"domain": [0,700], "nice": false}, "axis": {"title": "Read-out Signal (ΔIROP (%))", "values": [0,100,200,300,400,500,600,700], "labelColor": "#4b7ba3", "domainColor": "#3d4a55", "tickColor": "#3d4a55", "titlePadding": 6}},
      "color": {"field": "series", "type": "nominal", "scale": {"domain": ["Read-out Signal (ΔIROP(%))", "Absorbance (450nm)"], "range": ["#3b7fb4", "#f3a563"]}, "legend": {"title": null, "orient": "none", "legendX": 3, "legendY": 6}}}},
    {"mark": {"type": "rule", "color": "#333", "strokeWidth": 1}, "encoding": {"y": {"field": "low", "type": "quantitative", "axis": {"title": "Read-out Signal (ΔIROP (%))", "values": [0,100,200,300,400,500,600,700], "labelColor": "#4b7ba3", "domainColor": "#3d4a55", "tickColor": "#3d4a55", "titlePadding": 6}}, "y2": {"field": "high"}}},
    {"mark": {"type": "tick", "color": "#333", "thickness": 1, "size": 7}, "encoding": {"y": {"field": "low", "type": "quantitative", "axis": {"title": "Read-out Signal (ΔIROP (%))", "values": [0,100,200,300,400,500,600,700], "labelColor": "#4b7ba3", "domainColor": "#3d4a55", "tickColor": "#3d4a55", "titlePadding": 6}}}},
    {"mark": {"type": "tick", "color": "#333", "thickness": 1, "size": 7}, "encoding": {"y": {"field": "high", "type": "quantitative", "axis": {"title": "Read-out Signal (ΔIROP (%))", "values": [0,100,200,300,400,500,600,700], "labelColor": "#4b7ba3", "domainColor": "#3d4a55", "tickColor": "#3d4a55", "titlePadding": 6}}}}
   ]},
  {"transform": [{"filter": "datum.series == 'Absorbance (450nm)'"}],
   "encoding": {"x": {"field": "ig", "type": "nominal", "sort": ["IgG","IgM","IgA"], "scale": {"paddingInner": 0.2, "paddingOuter": 0.1}, "axis": {"orient": "top", "title": null, "labels": false, "domainColor": "#9a9a9a", "tickColor": "#9a9a9a", "tickSize": 3}},
     "xOffset": {"field": "series", "type": "nominal", "scale": {"domain": ["Read-out Signal (ΔIROP(%))", "Absorbance (450nm)"]}}},
   "layer": [
    {"mark": {"type": "bar", "stroke": "#b07a4a", "strokeWidth": 0.6},
     "encoding": {"y": {"field": "value", "type": "quantitative", "scale": {"domain": [0,2.5], "nice": false}, "axis": {"orient": "right", "title": "Absorbance (450nm)", "values": [0,0.5,1,1.5,2,2.5], "format": ".1f", "labelExpr": "replace(datum.label, '.', ',')", "labelColor": "#b39f80", "domainColor": "#cdbb9f", "tickColor": "#cdbb9f", "titlePadding": 10, "titleFontSize": 13.5}},
      "color": {"field": "series", "type": "nominal", "scale": {"domain": ["Read-out Signal (ΔIROP(%))", "Absorbance (450nm)"], "range": ["#3b7fb4", "#f3a563"]}, "legend": {"title": null, "orient": "none", "legendX": 3, "legendY": 6}}}},
    {"mark": {"type": "rule", "color": "#333", "strokeWidth": 1}, "encoding": {"y": {"field": "low", "type": "quantitative", "axis": {"orient": "right", "title": "Absorbance (450nm)", "values": [0,0.5,1,1.5,2,2.5], "format": ".1f", "labelExpr": "replace(datum.label, '.', ',')", "labelColor": "#b39f80", "domainColor": "#cdbb9f", "tickColor": "#cdbb9f", "titlePadding": 10, "titleFontSize": 13.5}}, "y2": {"field": "high"}}},
    {"mark": {"type": "tick", "color": "#333", "thickness": 1, "size": 7}, "encoding": {"y": {"field": "low", "type": "quantitative", "axis": {"orient": "right", "title": "Absorbance (450nm)", "values": [0,0.5,1,1.5,2,2.5], "format": ".1f", "labelExpr": "replace(datum.label, '.', ',')", "labelColor": "#b39f80", "domainColor": "#cdbb9f", "tickColor": "#cdbb9f", "titlePadding": 10, "titleFontSize": 13.5}}}},
    {"mark": {"type": "tick", "color": "#333", "thickness": 1, "size": 7}, "encoding": {"y": {"field": "high", "type": "quantitative", "axis": {"orient": "right", "title": "Absorbance (450nm)", "values": [0,0.5,1,1.5,2,2.5], "format": ".1f", "labelExpr": "replace(datum.label, '.', ',')", "labelColor": "#b39f80", "domainColor": "#cdbb9f", "tickColor": "#cdbb9f", "titlePadding": 10, "titleFontSize": 13.5}}}}
   ]}
 ]},
{"title": {"text": "H", "dx": -26}, "width": 253, "height": 204,
 "resolve": {"axis": {"x": "independent", "y": "independent"}},
 "layer": [
  {"data": {"name": "lines"}, "mark": {"type": "line", "clip": true},
   "encoding": {
    "x": {"field": "x", "type": "quantitative", "scale": {"domain": [-0.2, 1.9], "nice": false, "zero": false}, "axis": {"title": "ELISA Read-out Signal (Absorbance 450nm)", "titleFontSize": 11, "values": [0, 0.5, 1, 1.5], "format": ".1f", "labelExpr": "replace(datum.label, '.', ',')", "labelColor": "#333", "domainColor": "#555", "tickColor": "#555", "labelPadding": 6, "titlePadding": 5}},
    "y": {"field": "y", "type": "quantitative", "scale": {"domain": [-50, 550], "nice": false, "zero": false}, "axis": {"title": "Read-out Signal (ΔIROP (%))", "values": [0,100,200,300,400,500], "labelColor": "#333", "domainColor": "#555", "tickColor": "#555", "titlePadding": 6}},
    "detail": {"field": "line", "type": "nominal"},
    "color": {"field": "cat", "type": "nominal", "scale": {"domain": ["Concentration of Igs", "Linear Fit", "95% Confidence Band", "95% Prediction Band"], "range": ["#000000", "#d0302a", "#555555", "#333333"]},
      "legend": {"title": null, "orient": "none", "legendX": 5, "legendY": 5, "rowPadding": 2.5, "symbolSize": 100, "symbolOffset": 6.5, "labelOffset": 9,
        "encode": {"symbols": {"update": {
          "shape": {"signal": "datum.value == 'Concentration of Igs' ? 'M-0.45,-0.45H0.45V0.45H-0.45Z' : 'M-2.3,0H2.3'"},
          "size": {"value": 100},
          "strokeDash": {"signal": "datum.value == '95% Confidence Band' ? [1,2] : datum.value == '95% Prediction Band' ? [6,2,1,2] : [1,0]"},
          "fill": {"signal": "datum.value == 'Concentration of Igs' ? '#000000' : 'transparent'"},
          "stroke": [{"test": "datum.value == 'Linear Fit'", "value": "#d0302a"}, {"test": "datum.value == 'Concentration of Igs'", "value": "transparent"}, {"value": "#444444"}],
          "strokeWidth": {"value": 1.2},
          "opacity": {"value": 1}
        }}}}},
    "strokeDash": {"field": "cat", "type": "nominal", "scale": {"domain": ["Linear Fit", "95% Confidence Band", "95% Prediction Band"], "range": [[1,0],[1,2],[6,2,1,2]]}, "legend": null},
    "strokeWidth": {"condition": {"test": "datum.cat == 'Linear Fit'", "value": 1.4}, "value": 0.9}
   }},
  {"data": {"name": "pts"}, "mark": {"type": "point", "shape": "square", "filled": true, "size": 22, "opacity": 1, "color": "#000000"},
   "encoding": {
    "x": {"field": "x", "type": "quantitative", "scale": {"domain": [-0.2, 1.9], "nice": false, "zero": false}, "axis": {"orient": "top", "title": null, "labels": false, "values": [0, 0.5, 1, 1.5], "domainColor": "#555", "tickColor": "#555", "tickSize": 3}},
    "y": {"field": "y", "type": "quantitative", "scale": {"domain": [-50, 550], "nice": false, "zero": false}, "axis": {"orient": "right", "title": null, "labels": false, "values": [0,100,200,300,400,500], "domainColor": "#555", "tickColor": "#555", "tickSize": 3}}
   }}
 ]}
],
"config": {
 "font": "Liberation Sans",
 "view": {"stroke": null},
 "title": {"anchor": "start", "frame": "bounds", "font": "Liberation Serif", "fontSize": 26, "fontWeight": "bold", "color": "#000", "dx": -22, "baseline": "alphabetic", "offset": -14},
 "axis": {"grid": false, "labelFontSize": 11, "titleFontSize": 14, "titleFontWeight": "normal", "tickSize": 4, "titleColor": "#1a1a1a", "labelFont": "Liberation Sans", "titleFont": "Liberation Sans", "labelOverlap": false},
 "axisRight": {"titleAngle": 270, "titleBaseline": "top"},
 "legend": {"labelFontSize": 10, "labelFont": "Liberation Sans", "labelColor": "#111", "fillColor": "white", "strokeColor": "#9a9a9a", "padding": 1.5, "rowPadding": 1, "labelLimit": 300, "labelOffset": 6, "symbolType": "M-1.9,-1H1.9V1H-1.9Z", "symbolSize": 144, "symbolOffset": 5.5, "symbolStrokeWidth": 0, "symbolOpacity": 1}
}
}
